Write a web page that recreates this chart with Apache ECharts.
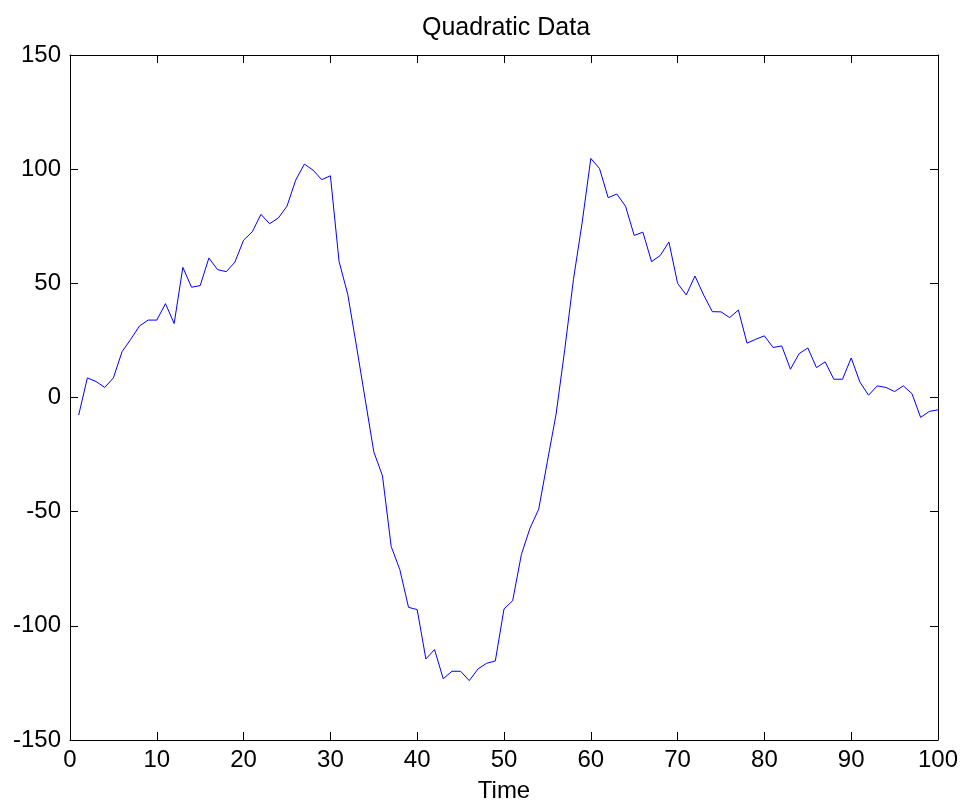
<!DOCTYPE html>
<html>
<head>
<meta charset="utf-8">
<script src="https://cdn.jsdelivr.net/npm/echarts@6/dist/echarts.min.js"></script>
<style>
html,body{margin:0;padding:0;background:#fff;}
#chart{width:964px;height:808px;}
</style>
</head>
<body>
<div id="chart"></div>
<script>
var titleText = 'Quadratic Data';
var xAxisName = 'Time';
var time = [1,2,3,4,5,6,7,8,9,10,11,12,13,14,15,16,17,18,19,20,21,22,23,24,25,26,27,28,29,30,31,32,33,34,35,36,37,38,39,40,41,42,43,44,45,46,47,48,49,50,51,52,53,54,55,56,57,58,59,60,61,62,63,64,65,66,67,68,69,70,71,72,73,74,75,76,77,78,79,80,81,82,83,84,85,86,87,88,89,90,91,92,93,94,95,96,97,98,99,100];
var values = [-7.7,8.6,7.0,4.4,8.6,20.1,25.5,31.3,33.9,33.9,41.1,32.4,57.0,48.3,49.0,61.1,56.0,55.1,59.3,68.9,72.6,80.2,76.1,78.6,83.8,95.2,102.2,99.6,95.4,97.1,59.5,45.2,22.6,-0.6,-23.8,-34.3,-65.2,-75.4,-91.9,-92.9,-114.5,-110.4,-123.2,-119.9,-119.9,-124.0,-118.9,-116.4,-115.4,-92.6,-89.0,-68.8,-57.2,-48.9,-28.0,-7.3,21,51.7,76.5,104.7,100.3,87.5,89.1,83.8,71.0,72.4,59.5,62.2,68.1,50.0,44.9,53.2,44.9,37.6,37.5,35.0,38.3,23.8,25.5,27.0,21.9,22.6,12.4,19.2,21.7,13.1,15.6,8.0,8.0,17.3,6.8,1.0,5.1,4.4,2.6,5.1,1.7,-8.7,-6.1,-5.4];
var xRange = [0, 100, 10];
var yRange = [-150, 150, 50];

var FONT = 'Liberation Sans, Arial, Helvetica, sans-serif';
var seriesData = time.map(function(t, i){ return [t, values[i]]; });

function axisCommon(){
  return {
    axisLine:{show:true,onZero:false,lineStyle:{color:'#000',width:1}},
    axisTick:{show:true,inside:true,length:8,lineStyle:{color:'#000',width:1}},
    splitLine:{show:false}
  };
}

var chart = echarts.init(document.getElementById('chart'), null, {renderer:'canvas'});
chart.setOption({
  animation:false,
  backgroundColor:'#fff',
  title:{
    text:titleText,
    left:501, textAlign:'center',
    top:11,
    textStyle:{fontFamily:FONT,fontSize:25,fontWeight:'normal',color:'#000'}
  },
  grid:{left:70,right:26,top:55,bottom:67,containLabel:false},
  xAxis:[
    Object.assign({
      type:'value',min:xRange[0],max:xRange[1],interval:xRange[2],position:'bottom',
      name:xAxisName,nameLocation:'middle',nameGap:39,
      nameTextStyle:{fontFamily:FONT,fontSize:24,color:'#000'},
      axisLabel:{margin:8,fontFamily:FONT,fontSize:24,color:'#000'}
    }, axisCommon()),
    Object.assign({
      type:'value',min:xRange[0],max:xRange[1],interval:xRange[2],position:'top',
      axisLabel:{show:false}
    }, axisCommon())
  ],
  yAxis:[
    Object.assign({
      type:'value',min:yRange[0],max:yRange[1],interval:yRange[2],position:'left',
      axisLabel:{margin:9,fontFamily:FONT,fontSize:24,color:'#000'}
    }, axisCommon()),
    Object.assign({
      type:'value',min:yRange[0],max:yRange[1],interval:yRange[2],position:'right',
      axisLabel:{show:false}
    }, axisCommon())
  ],
  series:[{
    type:'line',
    data:seriesData,
    xAxisIndex:0,yAxisIndex:0,
    showSymbol:false,
    symbol:'none',
    lineStyle:{color:'#0000ff',width:1},
    itemStyle:{color:'#0000ff'}
  }]
});
</script>
</body>
</html>
